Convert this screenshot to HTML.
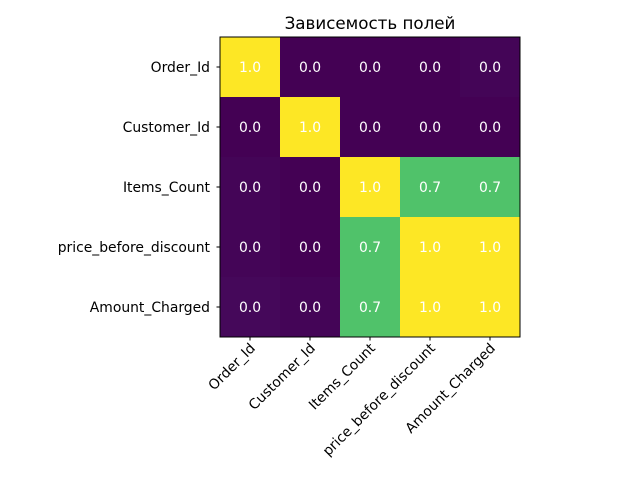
<!DOCTYPE html>
<html><head><meta charset="utf-8"><style>
body{margin:0;background:#fff}
svg text{font-family:"DejaVu Sans","Liberation Sans",sans-serif}
</style></head><body>
<svg id="c" width="640" height="480" xmlns="http://www.w3.org/2000/svg">
<rect width="640" height="480" fill="#fff"/>
<text x="370" y="29" text-anchor="middle" font-size="16.7">Зависемость полей</text>
<g id="cells"></g>
<rect x="220" y="37" width="300" height="300" fill="none" stroke="#000" stroke-width="1"/>
<g id="axes"></g>
</svg>
<script>
const labels = ["Order_Id","Customer_Id","Items_Count","price_before_discount","Amount_Charged"];
const values = [
 [1.0, 0.0, 0.0, 0.0, 0.01],
 [0.0, 1.0, 0.0, 0.0, 0.0],
 [0.01, 0.0, 1.0, 0.72, 0.72],
 [0.01, 0.0, 0.72, 1.0, 1.0],
 [0.02, 0.01, 0.72, 1.0, 1.0]
];
const printed = [
 ["1.0","0.0","0.0","0.0","0.0"],
 ["0.0","1.0","0.0","0.0","0.0"],
 ["0.0","0.0","1.0","0.7","0.7"],
 ["0.0","0.0","0.7","1.0","1.0"],
 ["0.0","0.0","0.7","1.0","1.0"]
];
const X0=220,Y0=37,S=300,N=labels.length,CW=S/N;
function xPos(i){return X0+i*CW;}
function yPos(i){return Y0+i*CW;}
const vir=[[68,1,84],[72,40,120],[62,74,137],[49,104,142],[38,130,142],[31,158,137],[53,183,121],[109,205,89],[180,222,44],[253,231,37]];
function color(v){v=Math.max(0,Math.min(1,v));const t=v*(vir.length-1),i=Math.min(Math.floor(t),vir.length-2),f=t-i;
 const c=vir[i].map((a,k)=>Math.round(a+(vir[i+1][k]-a)*f));return `rgb(${c})`;}
const ns="http://www.w3.org/2000/svg";
const cells=document.getElementById('cells'),axes=document.getElementById('axes');
for(let r=0;r<N;r++)for(let c=0;c<N;c++){
 const rc=document.createElementNS(ns,'rect');
 rc.setAttribute('x',xPos(c));rc.setAttribute('y',yPos(r));rc.setAttribute('width',CW+0.5);rc.setAttribute('height',CW+0.5);
 rc.setAttribute('fill',color(values[r][c]));
 
 
 cells.appendChild(rc);
 const t=document.createElementNS(ns,'text');
 t.setAttribute('x',xPos(c)+CW/2);t.setAttribute('y',yPos(r)+CW/2+5);
 t.setAttribute('text-anchor','middle');t.setAttribute('font-size','13.9');t.setAttribute('fill','#fff');
 t.textContent=printed[r][c];
 
 
 cells.appendChild(t);
}
labels.forEach((l,i)=>{
 const cy=yPos(i)+CW/2, cx=xPos(i)+CW/2;
 const tk=document.createElementNS(ns,'line');
 tk.setAttribute('x1',X0-3.5);tk.setAttribute('x2',X0);tk.setAttribute('y1',cy);tk.setAttribute('y2',cy);tk.setAttribute('stroke','#000');
 
 
 axes.appendChild(tk);
 const yl=document.createElementNS(ns,'text');
 yl.setAttribute('x',X0-10);yl.setAttribute('y',cy+5);yl.setAttribute('text-anchor','end');yl.setAttribute('font-size','13.9');
 yl.textContent=l;
 
 
 axes.appendChild(yl);
 const tx=document.createElementNS(ns,'line');
 tx.setAttribute('x1',cx);tx.setAttribute('x2',cx);tx.setAttribute('y1',Y0+S);tx.setAttribute('y2',Y0+S+3.5);tx.setAttribute('stroke','#000');
 
 
 axes.appendChild(tx);
 const xl=document.createElementNS(ns,'text');
 xl.setAttribute('text-anchor','end');xl.setAttribute('font-size','13.9');
 xl.setAttribute('transform',`translate(${cx+6},${Y0+S+12}) rotate(-45)`);
 xl.textContent=l;
 
 
 axes.appendChild(xl);
});
</script>
</body></html>
